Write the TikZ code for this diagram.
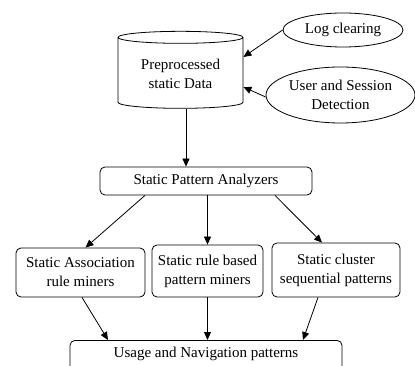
\documentclass[tikz,border=0pt]{standalone}
\usepackage{fontspec}
\setmainfont{Liberation Serif}
\usetikzlibrary{arrows.meta,shapes.geometric}

\begin{document}
\begin{tikzpicture}[
    x=1pt, y=-1pt,
    line width=0.8pt,
    every node/.style={font=\fontsize{15}{19}\selectfont},
    store/.style={draw, cylinder, shape border rotate=90, aspect=0.14, minimum width=125pt, minimum height=77pt, align=center},
    src/.style={draw, ellipse, align=center, inner sep=1pt},
    box/.style={draw, rounded corners=5pt, align=center},
    arr/.style={-{Triangle[length=8pt,width=7pt]}},
]
\useasboundingbox (0,0) rectangle (415,366);

% Top: data store and its inputs
\node[store] (data) at (180.5,74) {Preprocessed\\static Data};
\node[src, minimum width=120pt, minimum height=34pt] (log) at (343,30) {Log clearing};
\node[src, minimum width=145pt, minimum height=56pt] (user) at (340.5,95) {User and Session\\Detection};

% Middle: analyzer and the three miners
\node[box, minimum width=212pt, minimum height=28pt] (spa) at (206,181) {Static Pattern Analyzers};
\node[box, minimum width=129pt, minimum height=49pt] (assoc) at (80.5,272.5) {Static Association\\rule miners};
\node[box, minimum width=111pt, minimum height=52pt] (rule) at (207.5,271) {Static rule based\\pattern miners};
\node[box, minimum width=128pt, minimum height=54pt] (clust) at (336,270) {Static cluster\\sequential patterns};

% Bottom: result (runs off the page)
\node[box, minimum width=272pt, text height=14pt, text depth=20pt, anchor=north] (usage) at (206,340) {Usage and Navigation patterns};

% Inputs into the store
\draw[arr] (log.west) -- ([yshift=17pt]data.east);
\draw[arr] ([yshift=-2pt]user.west) -- ([yshift=-13pt]data.east);
\draw[arr] ([xshift=5.5pt]data.south) -- ([xshift=5.5pt]data.south |- spa.north);

% Fan out to the miners
\draw[arr] ([xshift=-61pt]spa.south) -- ([xshift=5pt]assoc.north);
\draw[arr] (rule.north |- spa.south) -- (rule.north);
\draw[arr] ([xshift=69pt]spa.south) -- ([xshift=-14pt]clust.north);

% Fan in to the result
\draw[arr] ([xshift=1.5pt]assoc.south) -- ([xshift=-98pt]usage.north);
\draw[arr] (rule.south) -- (rule.south |- usage.north);
\draw[arr] ([xshift=-18pt]clust.south) -- ([xshift=97pt]usage.north);

\end{tikzpicture}
\end{document}
